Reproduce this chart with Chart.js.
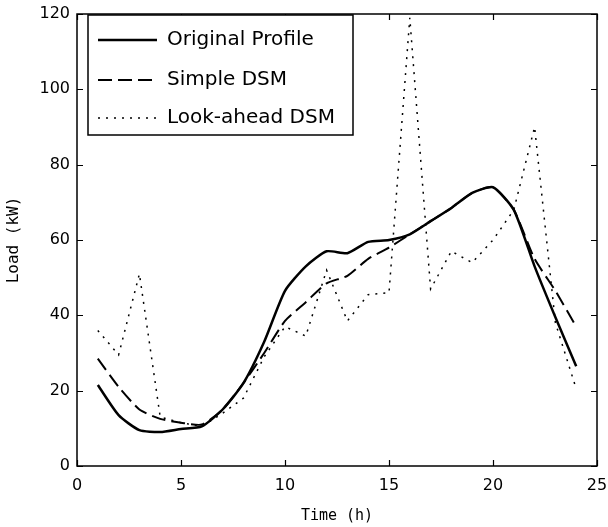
<!DOCTYPE html>
<html>
<head>
<meta charset="utf-8">
<script src="https://cdn.jsdelivr.net/npm/chart.js@4"></script>
<style>
  html, body { margin: 0; padding: 0; background: #fff; }
  #wrap { width: 608px; height: 527px; }
</style>
</head>
<body>
<div id="wrap"><canvas id="chart" width="608" height="527"></canvas></div>
<script>
// hourly load profiles (kW)
const hours = [1, 2, 3, 4, 5, 6, 7, 8, 9, 10, 11, 12, 13, 14, 15, 16, 17, 18, 19, 20, 21, 22, 23, 24];
const originalProfile = [21.5, 13.5, 9.5, 9, 9.8, 10.5, 15, 22, 33, 46.5, 53, 57, 56.5, 59.5, 60, 61.5, 65, 68.5, 72.5, 74, 68, 53, 39.5, 26.5];
const simpleDSM = [28.5, 21, 15, 12.5, 11.5, 11, 15, 22, 30, 38.5, 43.5, 48.5, 50.5, 55, 58, 61.5, 65, 68.5, 72.5, 74, 68, 55, 46.5, 37];
const lookAheadDSM = [36, 29.5, 51, 13, 11.5, 10.5, 14, 18, 29, 37, 34.5, 52, 38.5, 45.5, 46, 119, 47, 57, 54, 60, 68, 90, 38, 20.5];

const xTicks = [0, 5, 10, 15, 20, 25];
const yTicks = [0, 20, 40, 60, 80, 100, 120];

const toPoints = (vals) => hours.map((h, i) => ({ x: h, y: vals[i] }));

// frame, inward ticks on all four sides, legend box inside the plot
const framePlugin = {
  id: "frame",
  afterDraw(chart) {
    const ctx = chart.ctx;
    const a = chart.chartArea;
    const xs = chart.scales.x;
    const ys = chart.scales.y;
    ctx.save();
    ctx.strokeStyle = "#000";
    ctx.lineWidth = 1.5;
    ctx.strokeRect(a.left, a.top, a.right - a.left, a.bottom - a.top);
    ctx.lineWidth = 1.2;
    ctx.beginPath();
    xTicks.forEach((t) => {
      const px = Math.round(xs.getPixelForValue(t)) + 0.5;
      ctx.moveTo(px, a.bottom);
      ctx.lineTo(px, a.bottom - 6);
      ctx.moveTo(px, a.top);
      ctx.lineTo(px, a.top + 6);
    });
    yTicks.forEach((t) => {
      const py = Math.round(ys.getPixelForValue(t)) + 0.5;
      ctx.moveTo(a.left, py);
      ctx.lineTo(a.left + 6, py);
      ctx.moveTo(a.right, py);
      ctx.lineTo(a.right - 6, py);
    });
    ctx.stroke();

    // legend
    const bx = 88, by = 15, bw = 265, bh = 120;
    ctx.fillStyle = "#fff";
    ctx.fillRect(bx, by, bw, bh);
    ctx.lineWidth = 1.5;
    ctx.strokeRect(bx, by, bw, bh);
    const rows = [40, 80, 118];
    ctx.font = "20px 'DejaVu Sans'";
    ctx.textBaseline = "middle";
    chart.data.datasets.forEach((ds, i) => {
      const y = rows[i];
      ctx.beginPath();
      ctx.strokeStyle = "#000";
      ctx.lineWidth = ds.borderWidth;
      ctx.setLineDash(ds.borderDash || []);
      ctx.moveTo(98, y);
      ctx.lineTo(157, y);
      ctx.stroke();
      ctx.setLineDash([]);
      ctx.fillStyle = "#000";
      ctx.fillText(ds.label, 167, y);
    });
    ctx.restore();
  },
};

const ctx = document.getElementById("chart").getContext("2d");
new Chart(ctx, {
  type: "line",
  data: {
    datasets: [
      {
        label: "Original Profile",
        data: toPoints(originalProfile),
        borderColor: "#000",
        borderWidth: 2.5,
        pointRadius: 0,
        tension: 0.2,
      },
      {
        label: "Simple DSM",
        data: toPoints(simpleDSM),
        borderColor: "#000",
        borderWidth: 2,
        borderDash: [14, 6],
        pointRadius: 0,
        tension: 0.2,
      },
      {
        label: "Look-ahead DSM",
        data: toPoints(lookAheadDSM),
        borderColor: "#000",
        borderWidth: 1.5,
        borderDash: [2, 6],
        pointRadius: 0,
        tension: 0,
      },
    ],
  },
  options: {
    responsive: false,
    animation: false,
    layout: { padding: { left: 0, top: 14, right: 11, bottom: 0 } },
    plugins: {
      legend: { display: false },
      tooltip: { enabled: false },
    },
    scales: {
      x: {
        type: "linear",
        min: 0,
        max: 25,
        afterBuildTicks: (scale) => {
          scale.ticks = xTicks.map((v) => ({ value: v }));
        },
        afterFit: (scale) => {
          scale.height = 61;
          scale.paddingLeft = 0;
          scale.paddingRight = 0;
        },
        grid: { display: false, drawTicks: false },
        border: { display: false },
        ticks: {
          color: "#000",
          padding: 10,
          font: { family: "DejaVu Sans", size: 16 },
        },
        title: {
          display: true,
          text: "Time (h)",
          color: "#000",
          padding: { top: 0, bottom: 2 },
          font: { family: "DejaVu Sans Mono", size: 15 },
        },
      },
      y: {
        min: 0,
        max: 120,
        afterBuildTicks: (scale) => {
          scale.ticks = yTicks.map((v) => ({ value: v }));
        },
        afterFit: (scale) => {
          scale.width = 77;
          scale.paddingTop = 0;
          scale.paddingBottom = 0;
        },
        grid: { display: false, drawTicks: false },
        border: { display: false },
        ticks: {
          color: "#000",
          padding: 7,
          font: { family: "DejaVu Sans", size: 16 },
        },
        title: {
          display: true,
          text: "Load (kW)",
          color: "#000",
          padding: { top: 4, bottom: 0 },
          font: { family: "DejaVu Sans Mono", size: 16 },
        },
      },
    },
  },
  plugins: [framePlugin],
});
</script>
</body>
</html>
